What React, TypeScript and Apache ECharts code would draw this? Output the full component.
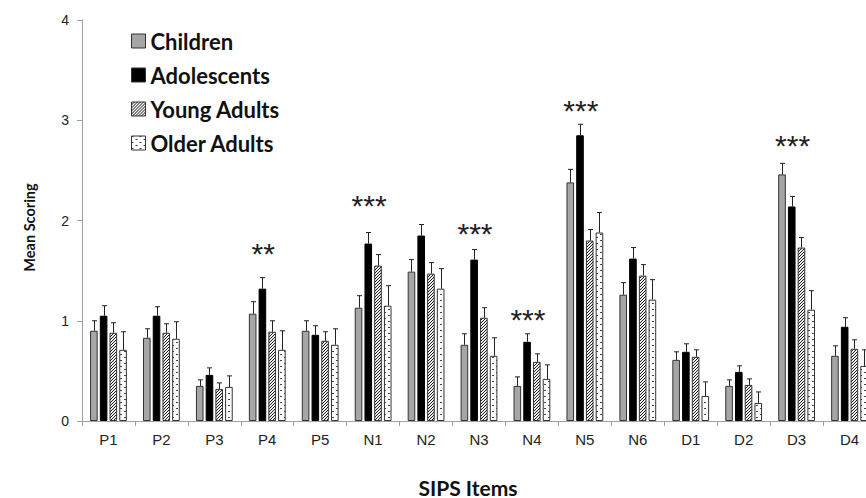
import React, { useEffect, useRef } from "react";
import * as echarts from "echarts";

const categories = ["P1", "P2", "P3", "P4", "P5", "N1", "N2", "N3", "N4", "N5", "N6", "D1", "D2", "D3", "D4"];
const seriesNames = ["Children", "Adolescents", "Young Adults", "Older Adults"];

const childrenMean = [0.9, 0.83, 0.35, 1.07, 0.9, 1.13, 1.49, 0.76, 0.35, 2.38, 1.26, 0.61, 0.35, 2.46, 0.65];
const childrenErr = [0.1, 0.09, 0.06, 0.12, 0.1, 0.12, 0.12, 0.11, 0.09, 0.13, 0.12, 0.08, 0.06, 0.11, 0.1];
const adolescentsMean = [1.05, 1.05, 0.46, 1.32, 0.86, 1.77, 1.85, 1.61, 0.79, 2.85, 1.62, 0.69, 0.49, 2.14, 0.94];
const adolescentsErr = [0.1, 0.09, 0.07, 0.11, 0.09, 0.11, 0.11, 0.1, 0.08, 0.11, 0.11, 0.08, 0.06, 0.1, 0.09];
const youngAdultsMean = [0.88, 0.88, 0.32, 0.89, 0.8, 1.55, 1.47, 1.03, 0.59, 1.8, 1.45, 0.64, 0.36, 1.73, 0.72];
const youngAdultsErr = [0.1, 0.09, 0.06, 0.11, 0.09, 0.11, 0.11, 0.1, 0.08, 0.11, 0.11, 0.07, 0.06, 0.1, 0.09];
const olderAdultsMean = [0.71, 0.82, 0.34, 0.71, 0.76, 1.15, 1.32, 0.65, 0.42, 1.88, 1.21, 0.25, 0.18, 1.11, 0.55];
const olderAdultsErr = [0.18, 0.17, 0.11, 0.19, 0.16, 0.2, 0.2, 0.18, 0.14, 0.2, 0.2, 0.14, 0.11, 0.19, 0.16];

const starCategories = ["P4", "N1", "N3", "N4", "N5", "D3"];
const starLabels = ["**", "***", "***", "***", "***", "***"];
const starLevels = [1.74, 2.22, 1.94, 1.08, 3.17, 2.82];

const yTicks = [0, 1, 2, 3, 4];

const BAR_W = 7.6;
const BAR_GAP = 0.28;

function makeTile(w: number, h: number, bg: string, fg: string, isDark: (x: number, y: number) => boolean) {
  const c = document.createElement("canvas");
  c.width = w;
  c.height = h;
  const ctx = c.getContext("2d")!;
  ctx.fillStyle = bg;
  ctx.fillRect(0, 0, w, h);
  ctx.fillStyle = fg;
  for (let y = 0; y < h; y++) {
    for (let x = 0; x < w; x++) {
      if (isDark(x, y)) ctx.fillRect(x, y, 1, 1);
    }
  }
  return { image: c, repeat: "repeat", imageWidth: w, imageHeight: h } as any;
}

export default function App() {
  const ref = useRef<HTMLDivElement>(null);

  useEffect(() => {
    if (!ref.current) return;
    const chart = echarts.init(ref.current, undefined, { renderer: "svg" });

    const hatch = makeTile(3, 3, "#f2f2f2", "#1a1a1a", (x, y) => (x + y) % 3 === 2);
    const dots = makeTile(8, 6, "#ffffff", "#444444", (x, y) => (y === 0 && x < 2) || (y === 3 && x >= 4 && x < 6));

    const means = [childrenMean, adolescentsMean, youngAdultsMean, olderAdultsMean];
    const errs = [childrenErr, adolescentsErr, youngAdultsErr, olderAdultsErr];
    const fills: any[] = ["#a6a6a6", "#000000", hatch, dots];

    const barSeries = seriesNames.map((name, i) => ({
      name,
      type: "bar",
      data: means[i],
      barWidth: BAR_W,
      barGap: BAR_GAP * 100 + "%",
      itemStyle: { color: fills[i], borderColor: i === 1 ? "#000" : "#333", borderWidth: 1 },
      z: 2,
    }));

    const errData: number[][] = [];
    means.forEach((m, g) => {
      m.forEach((v, c) => {
        errData.push([c, g, v, v + errs[g][c]]);
      });
    });

    const errSeries = {
      type: "custom",
      name: "errors",
      data: errData,
      encode: { x: 0, y: [2, 3] },
      z: 5,
      silent: true,
      renderItem: (params: any, api: any) => {
        const cat = api.value(0);
        const g = api.value(1);
        const base = api.coord([cat, api.value(2)]);
        const top = api.coord([cat, api.value(3)]);
        const x = Math.round(base[0] + (g - 1.5) * BAR_W * (1 + BAR_GAP)) + 0.5;
        const style = { stroke: "#222", lineWidth: 1 };
        return {
          type: "group",
          children: [
            { type: "line", shape: { x1: x, y1: base[1], x2: x, y2: top[1] }, style },
            { type: "line", shape: { x1: x - 2.5, y1: top[1], x2: x + 2.5, y2: top[1] }, style },
          ],
        };
      },
    };

    const starSeries = {
      type: "custom",
      name: "significance",
      data: starCategories.map((c, i) => [categories.indexOf(c), starLevels[i]]),
      encode: { x: 0, y: 1 },
      z: 6,
      silent: true,
      renderItem: (params: any, api: any) => {
        const p = api.coord([api.value(0), api.value(1)]);
        return {
          type: "text",
          x: p[0] - 4,
          y: p[1] + 7,
          style: {
            text: starLabels[params.dataIndex],
            fill: "#222",
            fontSize: 30,
            fontFamily: "Liberation Sans",
            align: "center",
            verticalAlign: "middle",
          },
        };
      },
    };

    chart.setOption({
      animation: false,
      backgroundColor: "#ffffff",
      grid: { left: 82, right: -10, top: 20, bottom: 77, containLabel: false, outerBoundsMode: "none" },
      legend: {
        data: seriesNames,
        orient: "vertical",
        left: 126,
        top: 24,
        padding: 5,
        icon: "rect",
        itemWidth: 14,
        itemHeight: 14,
        itemGap: 10,
        itemStyle: { borderColor: "#333", borderWidth: 1 },
        textStyle: { fontFamily: "Lato", fontWeight: "bold", fontSize: 22, color: "#111", lineHeight: 24 },
        selectedMode: false,
      },
      xAxis: {
        type: "category",
        data: categories,
        axisLine: { lineStyle: { color: "#a0a0a0", width: 1 } },
        axisTick: { show: true, length: 5, lineStyle: { color: "#a0a0a0" } },
        axisLabel: { interval: 0, color: "#222", fontSize: 15, fontFamily: "Liberation Sans", margin: 11 },
        name: "SIPS Items",
        nameLocation: "middle",
        nameGap: 57,
        nameTextStyle: {
          fontFamily: "Lato",
          fontWeight: "bold",
          fontSize: 21,
          lineHeight: 18,
          color: "#111",
          padding: [0, 22, 0, 0],
        },
      },
      yAxis: {
        type: "value",
        min: yTicks[0],
        max: yTicks[yTicks.length - 1],
        interval: 1,
        splitLine: { show: false },
        axisLine: { show: true, lineStyle: { color: "#a0a0a0", width: 1 } },
        axisTick: { show: true, length: 5, lineStyle: { color: "#a0a0a0" } },
        axisLabel: { color: "#222", fontSize: 14, fontFamily: "Liberation Sans", margin: 13 },
        name: "Mean Scoring",
        nameLocation: "middle",
        nameGap: 45,
        nameTextStyle: { fontFamily: "Lato", fontWeight: "bold", fontSize: 14.5, color: "#111", padding: [0, 14, 0, 0] },
      },
      series: [...barSeries, errSeries, starSeries],
    } as any);

    return () => chart.dispose();
  }, []);

  return <div ref={ref} style={{ position: "absolute", left: 0, top: 0, width: 866, height: 498 }} />;
}
